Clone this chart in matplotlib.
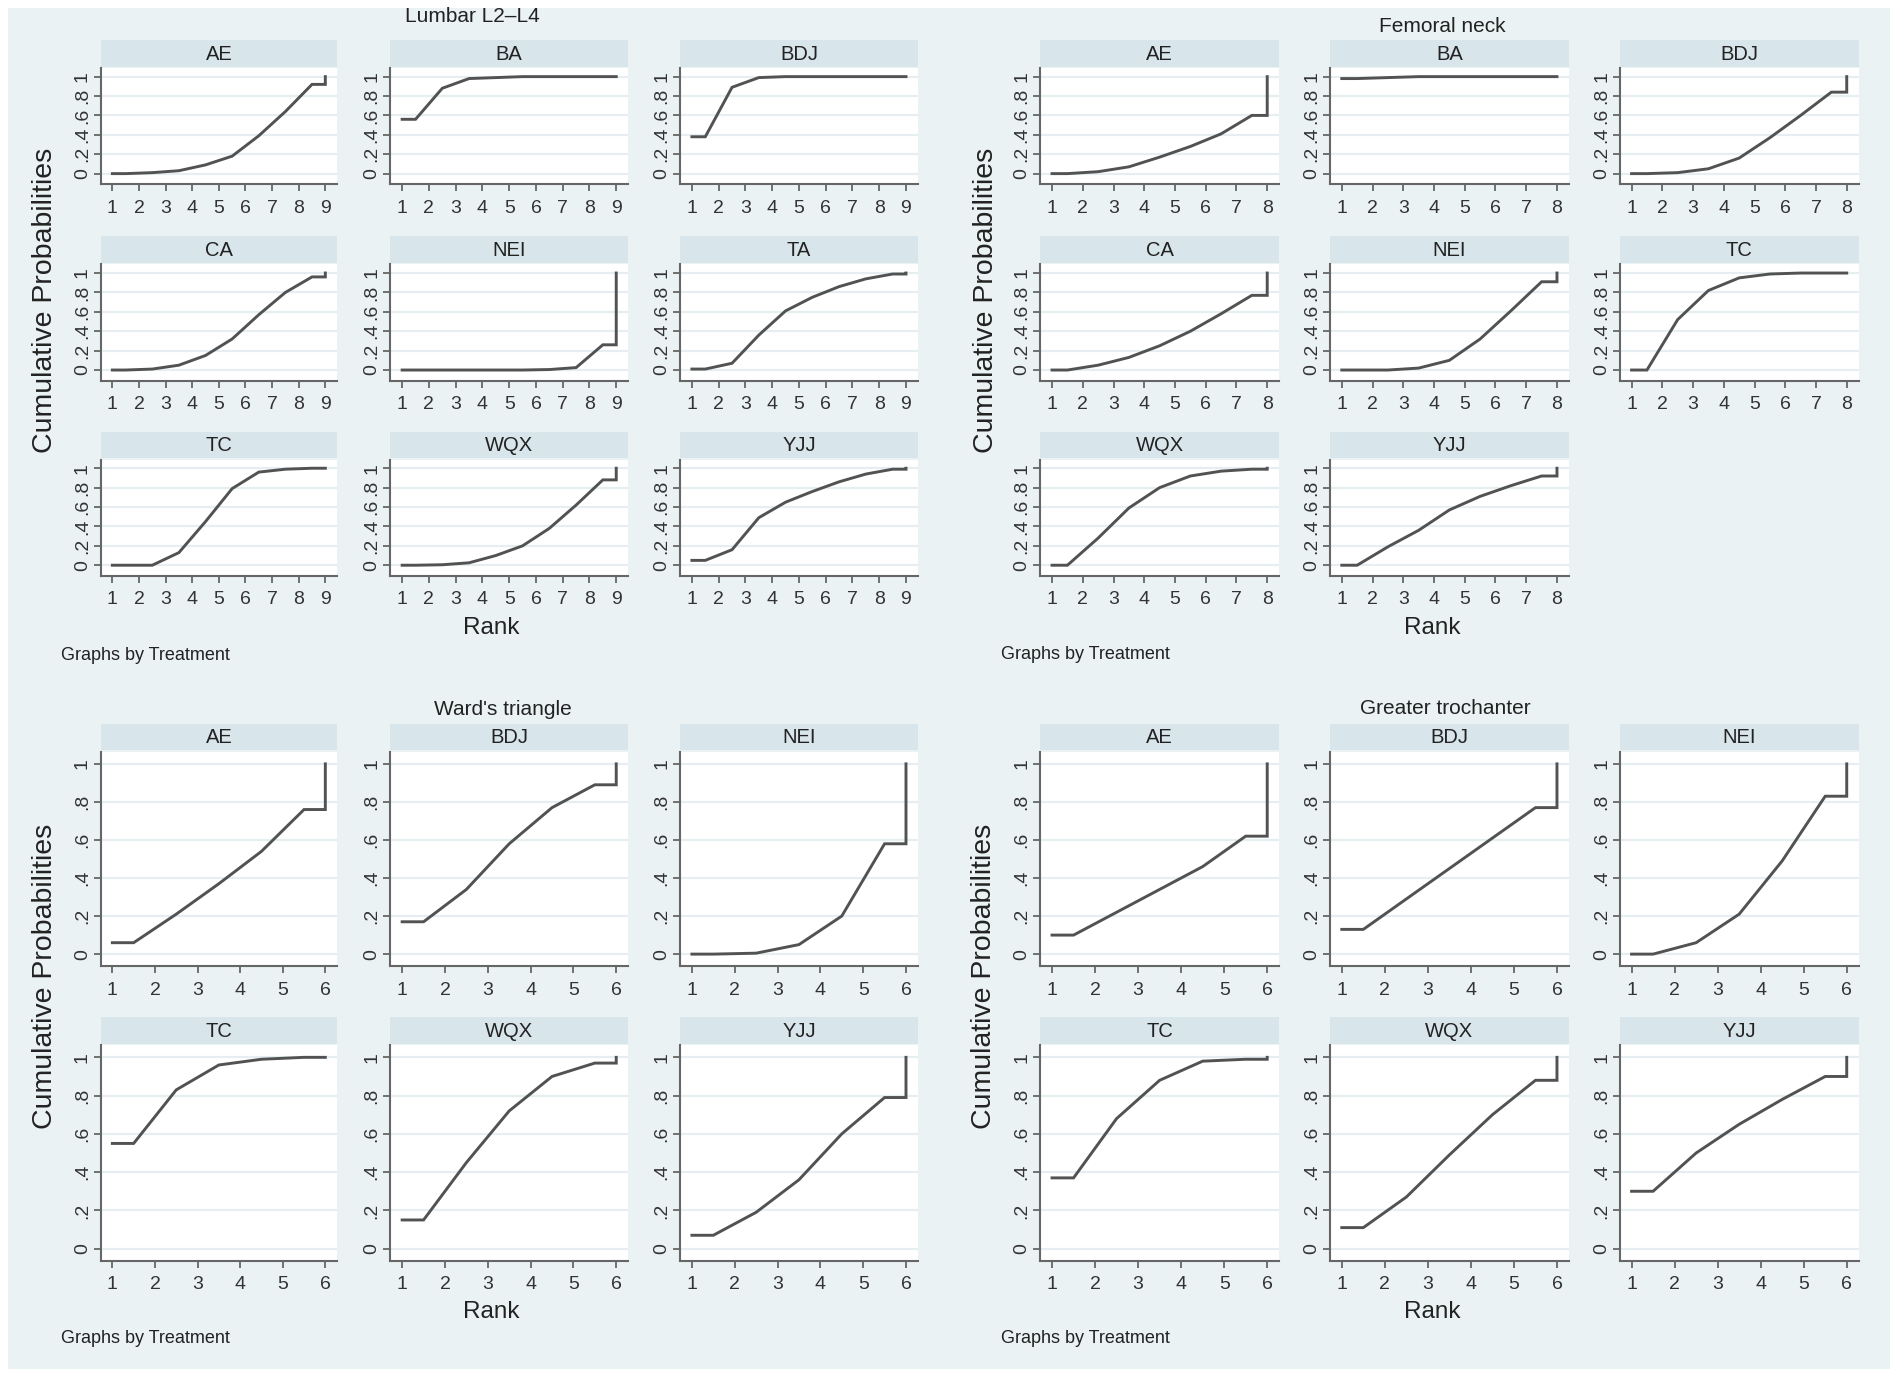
import matplotlib
matplotlib.use('Agg')
import matplotlib.pyplot as plt
from matplotlib.patches import Rectangle

plt.rcParams['font.family'] = ['Liberation Sans', 'DejaVu Sans']

# ---------------- data (cumulative ranking probabilities) ----------------
section_titles = ["Lumbar L2\u2013L4", "Femoral neck", "Ward's triangle", "Greater trochanter"]

lumbar_treat = ['AE', 'BA', 'BDJ', 'CA', 'NEI', 'TA', 'TC', 'WQX', 'YJJ']
lumbar_AE  = [0.00, 0.01, 0.03, 0.09, 0.18, 0.39, 0.64, 0.92, 1.00]
lumbar_BA  = [0.56, 0.88, 0.98, 0.99, 1.00, 1.00, 1.00, 1.00, 1.00]
lumbar_BDJ = [0.38, 0.89, 0.99, 1.00, 1.00, 1.00, 1.00, 1.00, 1.00]
lumbar_CA  = [0.00, 0.01, 0.05, 0.15, 0.32, 0.57, 0.80, 0.96, 1.00]
lumbar_NEI = [0.00, 0.00, 0.00, 0.00, 0.00, 0.005, 0.025, 0.26, 1.00]
lumbar_TA  = [0.01, 0.07, 0.36, 0.61, 0.75, 0.86, 0.94, 0.99, 1.00]
lumbar_TC  = [0.00, 0.00, 0.13, 0.45, 0.79, 0.96, 0.99, 1.00, 1.00]
lumbar_WQX = [0.00, 0.005, 0.025, 0.10, 0.20, 0.38, 0.62, 0.88, 1.00]
lumbar_YJJ = [0.05, 0.16, 0.49, 0.65, 0.76, 0.86, 0.94, 0.99, 1.00]

femoral_treat = ['AE', 'BA', 'BDJ', 'CA', 'NEI', 'TC', 'WQX', 'YJJ']
femoral_AE  = [0.00, 0.02, 0.07, 0.17, 0.28, 0.41, 0.60, 1.00]
femoral_BA  = [0.98, 0.99, 1.00, 1.00, 1.00, 1.00, 1.00, 1.00]
femoral_BDJ = [0.00, 0.01, 0.05, 0.16, 0.37, 0.60, 0.84, 1.00]
femoral_CA  = [0.00, 0.05, 0.13, 0.25, 0.40, 0.58, 0.77, 1.00]
femoral_NEI = [0.00, 0.00, 0.02, 0.10, 0.32, 0.61, 0.91, 1.00]
femoral_TC  = [0.00, 0.52, 0.82, 0.95, 0.99, 1.00, 1.00, 1.00]
femoral_WQX = [0.00, 0.28, 0.59, 0.80, 0.92, 0.97, 0.99, 1.00]
femoral_YJJ = [0.00, 0.19, 0.36, 0.57, 0.71, 0.82, 0.92, 1.00]

wards_treat = ['AE', 'BDJ', 'NEI', 'TC', 'WQX', 'YJJ']
wards_AE  = [0.06, 0.21, 0.37, 0.54, 0.76, 1.00]
wards_BDJ = [0.17, 0.34, 0.58, 0.77, 0.89, 1.00]
wards_NEI = [0.00, 0.005, 0.05, 0.20, 0.58, 1.00]
wards_TC  = [0.55, 0.83, 0.96, 0.99, 1.00, 1.00]
wards_WQX = [0.15, 0.45, 0.72, 0.90, 0.97, 1.00]
wards_YJJ = [0.07, 0.19, 0.36, 0.60, 0.79, 1.00]

troch_treat = ['AE', 'BDJ', 'NEI', 'TC', 'WQX', 'YJJ']
troch_AE  = [0.10, 0.22, 0.34, 0.46, 0.62, 1.00]
troch_BDJ = [0.13, 0.29, 0.45, 0.61, 0.77, 1.00]
troch_NEI = [0.00, 0.06, 0.21, 0.49, 0.83, 1.00]
troch_TC  = [0.37, 0.68, 0.88, 0.98, 0.99, 1.00]
troch_WQX = [0.11, 0.27, 0.49, 0.70, 0.88, 1.00]
troch_YJJ = [0.30, 0.50, 0.65, 0.78, 0.90, 1.00]

y_ticks = [0, 0.2, 0.4, 0.6, 0.8, 1.0]
y_tick_labels = ['0', '.2', '.4', '.6', '.8', '1']

sections = [
    (lumbar_treat, [lumbar_AE, lumbar_BA, lumbar_BDJ, lumbar_CA, lumbar_NEI,
                    lumbar_TA, lumbar_TC, lumbar_WQX, lumbar_YJJ]),
    (femoral_treat, [femoral_AE, femoral_BA, femoral_BDJ, femoral_CA, femoral_NEI,
                     femoral_TC, femoral_WQX, femoral_YJJ]),
    (wards_treat, [wards_AE, wards_BDJ, wards_NEI, wards_TC, wards_WQX, wards_YJJ]),
    (troch_treat, [troch_AE, troch_BDJ, troch_NEI, troch_TC, troch_WQX, troch_YJJ]),
]

# ---------------- styling / layout ----------------
BG = '#eaf2f3'
STRIP = '#d8e5eb'
GRID = '#e6eef1'
AXC = '#666666'
LINEC = '#525252'
TXT = '#222222'

DW, DH = 1568.0, 1144.0  # layout reference units (scaled to figure)

fig = plt.figure(figsize=(19.01, 13.87), dpi=100)
fig.patches.append(Rectangle((0.004, 0.013), 0.990, 0.981, transform=fig.transFigure,
                             facecolor=BG, edgecolor='none', zorder=-10))


def fx(x):
    return x / DW


def fy(y):
    return 1 - y / DH


def rank_path(c):
    n = len(c)
    xs = [1, 1.5] + [k + 0.5 for k in range(2, n)] + [n, n]
    ys = [c[0], c[0]] + list(c[1:n - 1]) + [c[n - 2], c[n - 1]]
    return xs, ys


cols_left = [(83, 278), (322, 518), (561, 757)]
cols_right = [(858, 1055), (1097, 1294), (1336, 1533)]
top_rows = [((33, 55), (56, 152)), ((195, 217), (218, 314)), ((356, 378), (379, 475))]
bot_rows = [((597, 619), (620, 797)), ((839, 861), (862, 1040))]

section_layout = [
    dict(cols=cols_left, rows=top_rows, ylim=(-0.11, 1.09), title=(390, 14),
         rank=(405, 518), gbt=(50, 541), ylab=(37, 248)),
    dict(cols=cols_right, rows=top_rows, ylim=(-0.11, 1.09), title=(1190, 22),
         rank=(1181, 518), gbt=(826, 540), ylab=(813, 248)),
    dict(cols=cols_left, rows=bot_rows, ylim=(-0.064, 1.064), title=(415, 585),
         rank=(405, 1082), gbt=(50, 1104), ylab=(37, 805)),
    dict(cols=cols_right, rows=bot_rows, ylim=(-0.064, 1.064), title=(1192, 584),
         rank=(1181, 1082), gbt=(826, 1104), ylab=(812, 805)),
]

for (treats, values), lay, title in zip(sections, section_layout, section_titles):
    for i, (name, c) in enumerate(zip(treats, values)):
        r, k = divmod(i, 3)
        (sy0, sy1), (py0, py1) = lay['rows'][r]
        x0, x1 = lay['cols'][k]
        # strip
        sax = fig.add_axes([fx(x0), fy(sy1), fx(x1 - x0), (sy1 - sy0) / DH])
        sax.set_facecolor(STRIP)
        sax.set_xticks([]); sax.set_yticks([])
        for s in sax.spines.values():
            s.set_visible(False)
        sax.text(0.5, 0.47, name, ha='center', va='center', fontsize=14.5,
                 color=TXT, transform=sax.transAxes)
        # plot
        ax = fig.add_axes([fx(x0), fy(py1), fx(x1 - x0), (py1 - py0) / DH])
        ax.set_facecolor('white')
        n = len(c)
        xs, ys = rank_path(c)
        ax.plot(xs, ys, color=LINEC, lw=2.1, solid_joinstyle='miter', zorder=3)
        pad = 0.055 * (n - 1)
        ax.set_xlim(1 - pad, n + pad)
        ax.set_ylim(*lay['ylim'])
        ax.set_xticks(range(1, n + 1))
        ax.set_yticks(y_ticks)
        ax.set_yticklabels(y_tick_labels, rotation=90, va='center')
        ax.tick_params(axis='both', direction='out', length=5, width=1.3, color=AXC,
                       labelsize=14, labelcolor='#333333')
        ax.tick_params(axis='x', pad=6)
        ax.tick_params(axis='y', pad=2)
        ax.yaxis.grid(True, color=GRID, lw=1.6)
        ax.set_axisbelow(True)
        for side in ('top', 'right'):
            ax.spines[side].set_visible(False)
        for side in ('left', 'bottom'):
            ax.spines[side].set_color(AXC)
            ax.spines[side].set_linewidth(1.5)
    tx, ty = lay['title']
    fig.text(fx(tx), fy(ty), title, ha='center', va='center', fontsize=15, color=TXT)
    rx, ry = lay['rank']
    fig.text(fx(rx), fy(ry), 'Rank', ha='center', va='center', fontsize=17.5, color=TXT)
    gx, gy = lay['gbt']
    fig.text(fx(gx), fy(gy), 'Graphs by Treatment', ha='left', va='center', fontsize=13,
             color=TXT)
    lx, ly = lay['ylab']
    fig.text(fx(lx), fy(ly), 'Cumulative Probabilities', ha='center', va='center',
             rotation=90, fontsize=20.5, color=TXT)

fig.savefig('out.png', dpi=100)
